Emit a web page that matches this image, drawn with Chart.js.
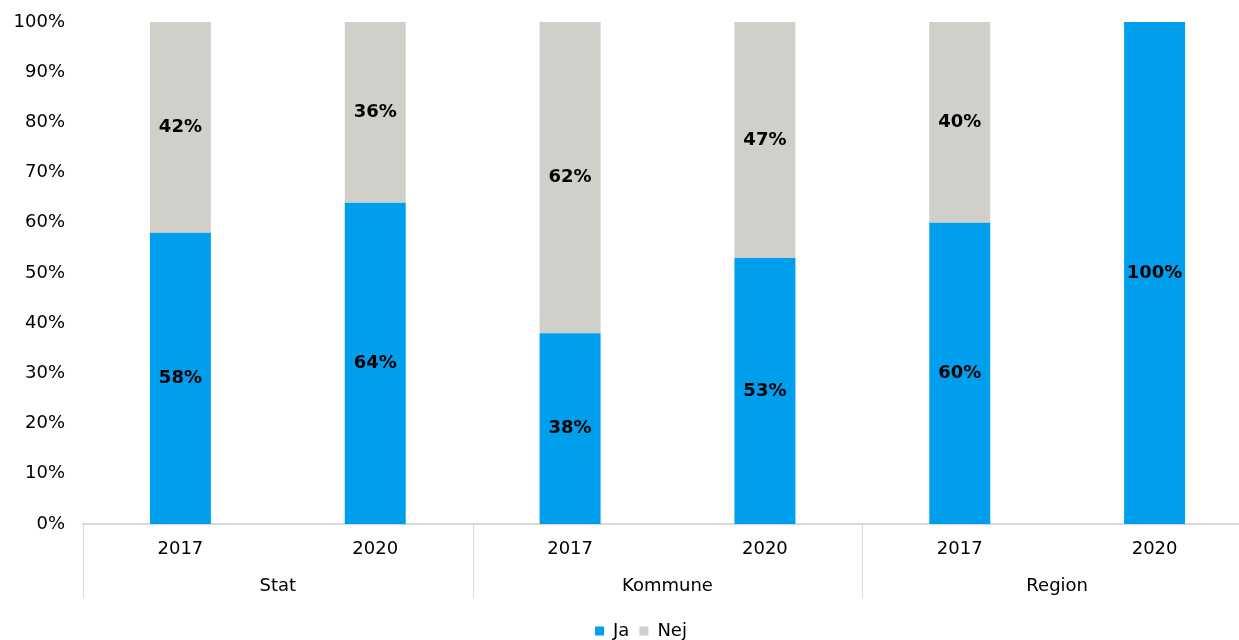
<!DOCTYPE html>
<html>
<head>
<meta charset="utf-8">
<script src="https://cdn.jsdelivr.net/npm/chart.js@4.4.1/dist/chart.umd.min.js"></script>
<style>
  html, body { margin: 0; padding: 0; overflow: hidden; background: #fff; }
  #wrap { width: 1252px; height: 640px; }
</style>
</head>
<body>
<div id="wrap"><canvas id="chart"></canvas></div>
<script>
/* ── Data ── */
const years = ['2017', '2020', '2017', '2020', '2017', '2020'];
const groups = ['Stat', 'Kommune', 'Region'];
const jaValues = [58, 64, 38, 53, 60, 100];
const nejValues = [42, 36, 62, 47, 40, 0];
const yTicks = [0, 10, 20, 30, 40, 50, 60, 70, 80, 90, 100];

const blue = '#009fee';
const grey = '#d0cfca';
const lineColor = '#d9d9d9';
const font = 'DejaVu Sans';

// bold % labels in the middle of each segment
const barLabels = {
    id: 'barLabels',
    afterDatasetsDraw(chart) {
        const ctx = chart.ctx;
        ctx.save();
        ctx.font = 'bold 18px "' + font + '"';
        ctx.fillStyle = '#000';
        ctx.textAlign = 'center';
        ctx.textBaseline = 'middle';
        chart.data.datasets.forEach((ds, di) => {
            const meta = chart.getDatasetMeta(di);
            meta.data.forEach((bar, i) => {
                const v = ds.data[i];
                if (!v) return;
                const p = bar.getProps(['x', 'y', 'base'], true);
                ctx.fillText(v + '%', p.x, (p.y + p.base) / 2);
            });
        });
        ctx.restore();
    }
};

// vertical separators between the groups, below the axis
const groupLines = {
    id: 'groupLines',
    afterDraw(chart) {
        const x = chart.scales.x;
        const x2 = chart.scales.x2;
        const step = x.getPixelForValue(1) - x.getPixelForValue(0);
        const ctx = chart.ctx;
        ctx.save();
        ctx.strokeStyle = lineColor;
        ctx.lineWidth = 1;
        [0, 2, 4, 6].forEach(i => {
            const px = Math.round(x.getPixelForValue(0) - step / 2 + i * step) + 0.5;
            ctx.beginPath();
            ctx.moveTo(px, chart.chartArea.bottom);
            ctx.lineTo(px, x2.bottom);
            ctx.stroke();
        });
        ctx.restore();
    }
};

// fixed legend box height, items nudged to where the original has them
const legendHeight = {
    id: 'legendHeight',
    beforeLayout(chart) {
        const lg = chart.legend;
        if (!lg || lg._fixed) return;
        const fit = lg.fit;
        const draw = lg.draw;
        lg.fit = function () { fit.call(this); this.height = 42; };
        lg.draw = function () {
            const ctx = this.ctx;
            ctx.save();
            ctx.translate(15, 14);
            draw.call(this);
            ctx.restore();
        };
        lg._fixed = true;
    }
};

new Chart(document.getElementById('chart'), {
    type: 'bar',
    data: {
        labels: years,
        datasets: [
            { label: 'Ja', data: jaValues, backgroundColor: blue, barPercentage: 1, categoryPercentage: 0.313 },
            { label: 'Nej', data: nejValues, backgroundColor: grey, barPercentage: 1, categoryPercentage: 0.313 }
        ]
    },
    options: {
        responsive: true,
        maintainAspectRatio: false,
        animation: false,
        layout: { padding: { top: 22, left: 0, right: 0, bottom: 0 } },
        plugins: {
            tooltip: { enabled: false },
            legend: {
                position: 'bottom',
                labels: {
                    color: '#000',
                    font: { size: 18, family: font },
                    boxWidth: 9,
                    boxHeight: 9,
                    padding: 10
                }
            }
        },
        scales: {
            y: {
                stacked: true,
                min: 0,
                max: 100,
                afterBuildTicks: (s) => { s.ticks = yTicks.map(v => ({ value: v })); },
                afterFit: (s) => { s.width = 83; s.paddingTop = 0; s.paddingBottom = 0; },
                grid: { display: false, drawTicks: false },
                border: { display: false },
                ticks: { color: '#000', font: { size: 18, family: font }, padding: 18, callback: v => v + '%' }
            },
            x: {
                stacked: true,
                afterFit: (s) => { s.height = 38; },
                grid: { display: false, drawTicks: false },
                border: { color: lineColor, width: 2 },
                ticks: { color: '#000', font: { size: 18, family: font }, padding: 15, maxRotation: 0 }
            },
            x2: {
                type: 'category',
                labels: groups,
                position: 'bottom',
                offset: true,
                afterFit: (s) => { s.height = 36; },
                grid: { display: false, drawTicks: false },
                border: { display: false },
                ticks: { color: '#000', font: { size: 18, family: font }, padding: 14, maxRotation: 0 }
            }
        }
    },
    plugins: [barLabels, groupLines, legendHeight]
});
</script>
</body>
</html>
